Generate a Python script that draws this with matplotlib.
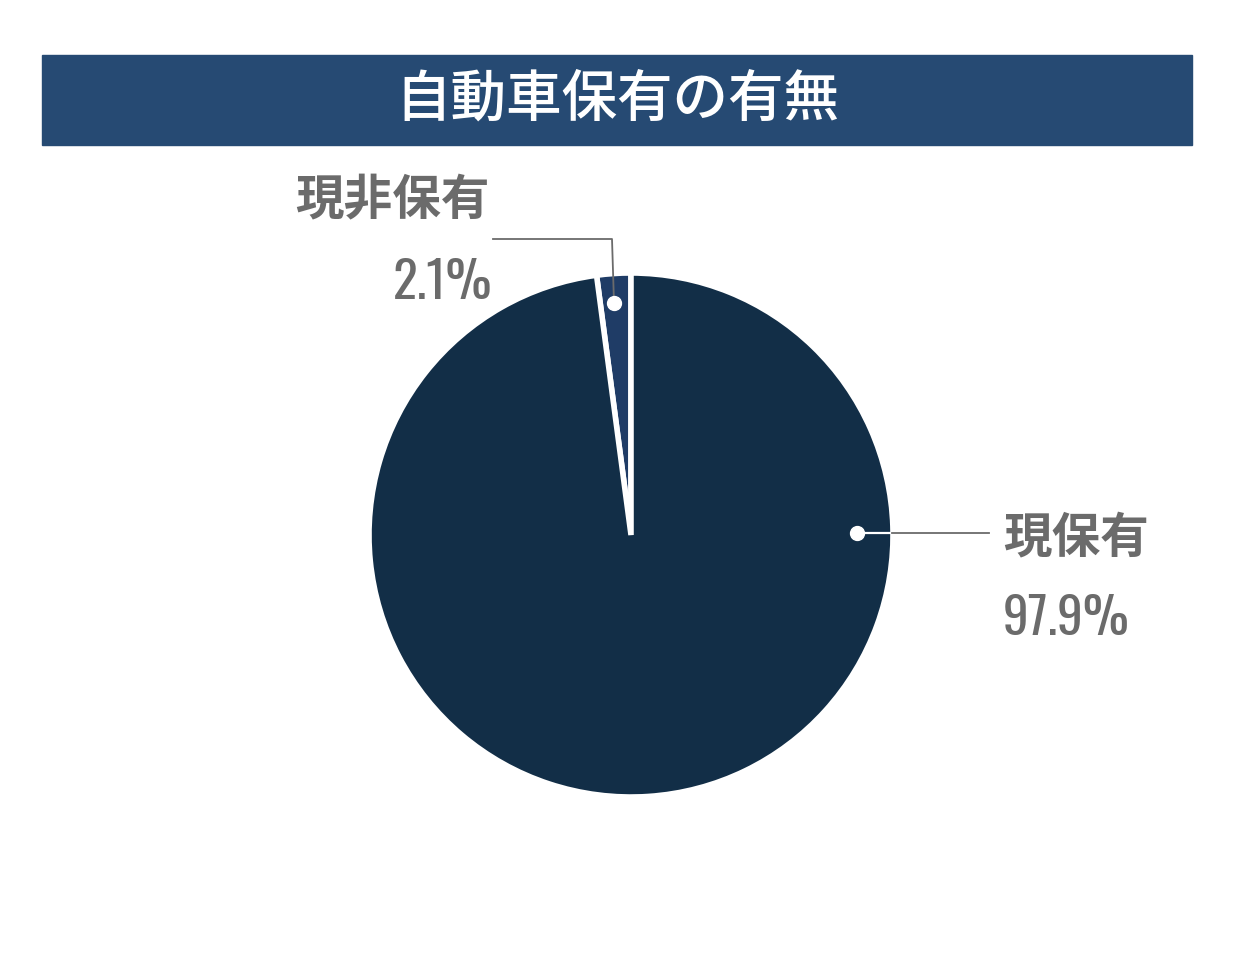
import matplotlib.pyplot as plt
from matplotlib.patches import Rectangle

plt.rcParams['font.family'] = ['Noto Sans CJK JP', 'DejaVu Sans']

title = "自動車保有の有無"
labels = ["現非保有", "現保有"]
values = [2.1, 97.9]
pct_labels = ["2.1%", "97.9%"]
colors = ["#1f3c66", "#122e47"]

W, H = 1235, 956
fig = plt.figure(figsize=(W / 100, H / 100), dpi=100)
ax = fig.add_axes([0, 0, 1, 1])

# title bar
ax.add_patch(Rectangle((42, H - 145), 1150, 90, color="#264a73", zorder=1))
ax.text(617, H - 100, title, color="white", fontsize=40, fontweight="medium",
        ha="center", va="center", zorder=2)

cx, cy, r = 631, H - 535, 262
ax.pie(values, colors=colors, startangle=90, counterclock=True,
       center=(cx, cy), radius=r, frame=True,
       wedgeprops=dict(edgecolor="white", linewidth=4))
ax.set_xlim(0, W)
ax.set_ylim(0, H)
ax.set_aspect("equal")
ax.axis("off")

gray = "#6b6b6b"
num_font = ['Oswald', 'Barlow Condensed', 'Archivo Narrow', 'DejaVu Sans']

# small slice callout
ax.plot([614, 612, 493], [H - 303, H - 239, H - 239], color=gray, lw=1.3, zorder=3)
ax.plot(614, H - 303, "o", ms=10, color="white", zorder=4)
ax.text(295, H - 200, labels[0], color=gray, fontsize=35, fontweight="bold",
        ha="left", va="center")
ax.text(492, H - 299, pct_labels[0], color=gray, fontsize=37, family=num_font,
        fontweight="light", ha="right", va="baseline")

# big slice callout
ax.plot([857, 989], [H - 533, H - 533], color=gray, lw=1.3, zorder=3)
ax.plot([857, 890], [H - 533, H - 533], color="white", lw=1.6, zorder=3)
ax.plot(857, H - 533, "o", ms=10, color="white", zorder=4)
ax.text(1003, H - 538, labels[1], color=gray, fontsize=35, fontweight="bold",
        ha="left", va="center")
ax.text(1003, H - 635, pct_labels[1], color=gray, fontsize=37, family=num_font,
        fontweight="light", ha="left", va="baseline")

fig.savefig("out.png", dpi=100)
